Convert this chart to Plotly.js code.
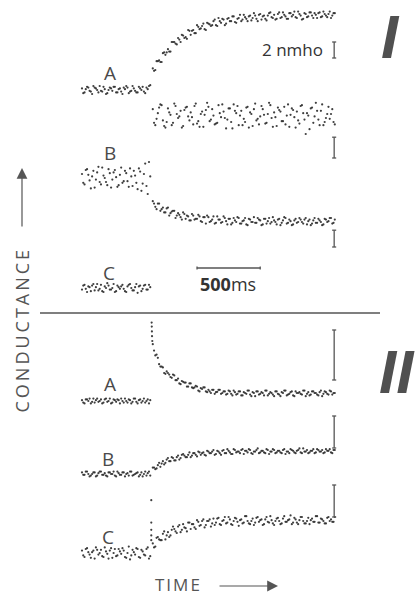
<!DOCTYPE html>
<html><head><meta charset="utf-8">
<script src="https://cdn.plot.ly/plotly-3.0.1.min.js"></script>
<style>
html,body{margin:0;padding:0;background:#fff;}
#chart{width:417px;height:595px;}
.annotation[data-index="10"] text{letter-spacing:3px;}
.annotation[data-index="11"] text{letter-spacing:2px;}
</style></head><body><div id="chart"></div>
<script>
// sample times (ms); two interleaved sample sets, step applied at ~550 ms
const tPre = [0,20,40,60,80,100,120,140,160,180,200,220,240,260,280,300,320,340,360,380,400,420,440,460,480,500,520,540];
const tPre2 = [10,30,50,70,90,110,130,150,170,190,210,230,250,270,290,310,330,350,370,390,410,430,450,470,490,510,530];
const tPost = [560,580,600,620,640,660,680,700,720,740,760,780,800,820,840,860,880,900,920,940,960,980,1000,1020,1040,1060,1080,1100,1120,1140,1160,1180,1200,1220,1240,1260,1280,1300,1320,1340,1360,1380,1400,1420,1440,1460,1480,1500,1520,1540,1560,1580,1600,1620,1640,1660,1680,1700,1720,1740,1760,1780,1800,1820,1840,1860,1880,1900,1920,1940,1960,1980,2000];
const tPost2 = [570,590,610,630,650,670,690,710,730,750,770,790,810,830,850,870,890,910,930,950,970,990,1010,1030,1050,1070,1090,1110,1130,1150,1170,1190,1210,1230,1250,1270,1290,1310,1330,1350,1370,1390,1410,1430,1450,1470,1490,1510,1530,1550,1570,1590,1610,1630,1650,1670,1690,1710,1730,1750,1770,1790,1810,1830,1850,1870,1890,1910,1930,1950,1970,1990];
const tFastA = [551,552,553,554,556];
const tStim = [548,548,548,548,548];

// conductance change (nmho) relative to each trace's resting level
const iA_pre = [0.2,-0.3,0.4,-0.1,-0.5,0.3,0.0,0.5,-0.2,0.1,-0.4,0.3,-0.1,0.4,-0.3,0.2,-0.5,0.1,0.3,-0.2,0.5,-0.1,-0.3,0.2,0.4,-0.4,0.1,0.6];
const iA_pre2 = [-0.4,0.1,0.3,-0.2,0.5,0.2,-0.3,-0.1,0.4,-0.5,0.0,0.2,0.4,-0.3,0.1,-0.2,0.3,0.5,-0.4,-0.1,0.2,-0.3,0.4,0.0,-0.2,0.3,0.5];
const iA_post = [2.7,2.5,3.6,3.5,4.6,4.4,5.1,4.8,6.0,5.8,6.5,6.0,6.8,6.6,7.5,6.9,7.5,7.1,7.9,7.7,8.3,7.5,8.3,8.0,8.6,8.1,9.0,8.4,8.8,8.3,9.0,8.6,9.2,8.4,9.0,8.6,9.4,8.9,9.2,8.7,9.6,8.9,9.4,8.8,9.3,8.7,9.6,9.1,9.4,8.9,9.7,9.1,9.4,8.9,9.6,9.2,9.8,9.0,9.5,8.8,9.6,9.1,9.7,9.3,9.6,9.0,9.7,9.2,9.5,9.1,9.8,9.3,9.6];
const iA_post2 = [2.4,3.6,3.7,3.5,4.7,4.7,4.8,6.0,6.0,5.7,6.3,6.9,6.5,6.4,7.4,7.4,7.1,8.1,7.6,8.0,7.6,8.4,8.2,8.1,8.8,8.0,8.6,8.9,8.1,8.9,8.6,9.2,8.5,8.9,9.4,8.8,9.1,8.6,9.3,9.0,9.3,8.6,9.5,9.2,8.9,9.3,9.7,9.0,8.8,9.5,9.0,9.7,9.2,8.9,9.6,9.4,9.1,9.8,9.3,8.9,9.5,9.2,9.7,9.0,9.4,9.6,9.1,9.8,9.3,9.5,9.0,9.6];
const iB_pre = [0.5,-0.8,1.1,-0.3,0.2,-1.2,0.7,-0.5,1.3,0.0,-0.9,0.6,-0.2,1.0,-1.1,0.4,-0.6,0.9,-0.4,1.2,-1.0,0.3,-1.4,0.8,-0.7,1.8,-2.0,0.2];
const iB_pre2 = [-0.6,1.0,0.4,-1.3,0.9,-0.2,1.4,-0.8,0.3,-0.5,1.1,-1.2,0.7,0.1,-0.9,1.3,-0.4,0.6,-1.1,0.2,0.9,-0.6,1.2,-1.6,0.5,-1.0,2.0];
const iB_postUpper = [8.6,6.6,8.1,9.2,7.2,6.3,8.7,7.9,6.9,9.0,7.5,8.4,6.5,8.8,7.7,8.2,6.7,9.3,7.1,8.0,6.4,8.5,8.9,7.3,7.8,6.8,9.1,7.6,8.3,6.2,8.7,7.0,9.2,8.1,6.6,8.4,7.4,8.8,6.3,8.0,8.6,7.2,6.7,9.0,7.9,6.9,9.4,7.5,8.2,6.5,8.5,7.1,8.9,7.8,6.4,8.7,7.6,8.3,6.8,9.1,7.3,8.1,6.1,8.8,7.7,8.4,6.6,9.2,7.0,8.0,7.4,8.6,6.7];
const iB_postUpper2 = [6.9,7.4,8.8,9.1,6.5,7.0,8.2,6.6,9.3,8.0,7.7,6.3,8.5,8.9,7.2,7.6,9.0,6.8,6.4,8.3,7.9,9.4,7.1,8.6,6.7,6.9,8.1,9.2,7.5,7.3,8.7,6.2,8.4,9.0,7.8,6.6,7.0,8.9,8.2,6.5,9.3,7.4,7.7,8.6,6.8,8.0,9.1,6.4,7.6,8.8,8.3,7.1,6.7,9.2,7.9,8.5,6.3,7.2,9.0,8.1,5.5,7.8,8.7,6.9,9.4,7.3,8.4,6.6,7.5,8.9,8.0,7.0];
const iB_postLower = [-2.9,-3.6,-3.2,-4.1,-3.7,-4.3,-3.7,-4.4,-4.1,-5.0,-4.4,-4.9,-4.3,-5.1,-4.8,-5.3,-4.7,-5.1,-4.6,-5.4,-4.9,-5.7,-4.9,-5.4,-4.8,-5.6,-5.2,-5.6,-4.8,-5.4,-5.1,-5.8,-5.0,-5.5,-5.0,-5.7,-5.3,-5.8,-5.1,-5.5,-4.9,-5.6,-5.2,-5.9,-5.1,-5.7,-5.0,-5.5,-5.3,-5.8,-5.1,-5.6,-4.9,-5.7,-5.2,-5.9,-5.3,-5.6,-5.0,-5.5,-5.2,-5.8,-5.2,-5.7,-5.0,-5.6,-5.3,-5.9,-5.1,-5.5,-5.0,-5.7,-5.2];
const iB_postLower2 = [-3.2,-3.9,-3.2,-3.9,-4.3,-3.8,-4.7,-4.2,-4.1,-4.7,-4.6,-5.2,-4.5,-4.7,-5.3,-4.5,-5.2,-5.1,-4.8,-5.5,-4.9,-4.7,-5.5,-5.2,-5.7,-4.8,-5.2,-5.5,-5.0,-5.8,-5.1,-5.6,-5.3,-4.9,-5.7,-5.4,-5.0,-5.9,-5.2,-5.5,-5.6,-5.0,-5.3,-5.8,-5.1,-5.4,-5.7,-4.9,-5.5,-5.2,-5.9,-5.3,-5.0,-5.6,-5.4,-5.8,-5.1,-5.5,-5.2,-5.7,-5.0,-5.4,-5.9,-5.3,-5.6,-5.1,-5.5,-5.8,-5.2,-5.4,-5.0,-5.6];
const iC_pre = [-0.2,0.4,-0.5,0.1,0.3,-0.3,0.5,-0.1,-0.4,0.2,0.6,-0.2,0.0,-0.5,0.3,-0.1,0.4,-0.4,0.2,0.5,-0.3,0.1,-0.6,0.3,-0.1,0.4,-0.2,0.1];
const iC_pre2 = [0.3,-0.1,0.2,-0.4,0.5,0.1,-0.3,0.4,-0.5,0.0,0.3,-0.2,0.5,-0.4,0.1,0.2,-0.1,-0.5,0.4,0.0,-0.3,0.5,0.2,-0.4,0.3,-0.2,0.4];
const iiA_pre = [0.1,-0.3,0.2,0.3,-0.1,-0.2,0.3,0.0,-0.3,0.2,-0.1,0.3,-0.2,0.1,0.2,-0.3,0.0,0.3,-0.2,0.1,-0.1,0.3,-0.3,0.2,0.0,-0.2,0.2,0.1];
const iiA_pre2 = [-0.2,0.2,0.0,-0.3,0.3,0.1,-0.1,0.2,-0.2,0.3,0.0,-0.3,0.2,-0.1,0.1,0.3,-0.2,0.0,0.2,-0.3,0.3,-0.1,0.1,-0.2,0.3,0.0,-0.3];
const iiA_fast = [9.8,9.3,8.7,8.1,7.5];
const iiA_post = [7.1,5.7,5.4,4.3,4.2,3.4,3.5,3.0,3.3,2.6,2.8,2.1,2.4,2.3,1.8,2.2,1.6,1.9,1.3,1.6,1.7,1.2,1.4,1.0,1.4,1.1,1.4,0.9,1.2,0.8,1.3,0.9,1.3,0.8,1.2,0.7,1.1,0.9,1.3,0.6,1.0,1.2,0.8,1.1,0.7,1.3,0.9,1.0,0.6,1.2,0.8,1.1,1.3,0.7,0.9,1.2,0.6,1.0,1.1,0.8,1.3,0.9,0.7,1.2,1.0,0.8,1.1,0.6,1.2,0.9,1.3,0.8,1.0];
const iiA_post2 = [6.3,5.8,4.6,4.3,3.5,3.7,3.3,2.9,3.2,2.6,2.2,2.5,2.3,1.8,2.2,1.7,1.7,1.8,1.2,1.5,1.7,1.1,1.2,1.4,0.9,1.15,1.4,1.0,1.2,0.9,1.2,0.7,1.1,0.9,1.2,0.7,1.0,1.3,0.8,1.1,0.6,1.2,0.9,1.0,1.3,0.7,1.1,0.8,1.2,0.9,0.6,1.0,1.3,0.8,1.1,0.7,1.2,1.0,0.9,1.3,0.6,1.1,0.8,1.2,1.0,0.7,1.3,0.9,1.1,0.8,1.2,1.0];
const iiB_pre = [0.2,-0.1,0.3,-0.3,0.0,0.2,-0.2,0.3,-0.1,0.1,-0.3,0.2,0.0,-0.2,0.3,-0.1,0.2,-0.3,0.1,0.3,-0.2,0.0,0.2,-0.1,-0.3,0.3,0.1,-0.2];
const iiB_pre2 = [-0.1,0.3,0.0,-0.2,0.2,-0.3,0.1,0.3,-0.1,-0.2,0.2,0.0,0.3,-0.3,0.1,-0.1,0.2,0.0,-0.2,0.3,-0.1,0.1,-0.3,0.2,0.0,-0.2,0.3];
const iiB_post = [0.8,0.6,1.1,0.9,1.6,1.4,2.0,1.6,2.0,1.7,2.3,2.0,2.5,2.1,2.4,2.1,2.6,2.4,2.8,2.4,2.7,2.3,2.8,2.6,3.0,2.5,2.8,2.4,3.0,2.6,2.9,2.5,3.1,2.7,2.8,3.0,2.5,2.9,3.1,2.6,2.8,3.0,2.6,2.9,2.7,3.1,2.5,2.8,3.0,2.7,2.9,2.6,3.1,2.8,2.6,3.0,2.7,2.9,3.2,2.6,2.8,3.0,2.7,2.9,2.6,3.1,2.8,3.0,2.7,2.9,3.1,2.6,3.0];
const iiB_post2 = [0.8,0.7,1.4,1.3,1.2,1.8,1.6,2.1,1.7,2.1,1.8,2.4,2.3,2.1,2.7,2.3,2.6,2.2,2.7,2.6,2.4,2.9,2.6,2.8,2.4,2.9,2.6,2.9,2.6,3.1,2.7,2.5,3.0,2.8,2.6,3.1,2.9,2.7,3.0,2.5,2.8,3.2,2.7,2.9,2.6,3.0,2.8,3.1,2.6,2.9,2.7,3.0,2.5,2.8,3.1,2.9,2.6,3.0,2.7,3.2,2.8,2.6,2.9,3.1,2.7,3.0,2.8,2.6,3.1,2.9,2.7,3.0];
const iiC_pre = [0.3,-0.5,0.6,-0.2,0.1,-0.7,0.4,0.0,-0.4,0.7,-0.1,0.3,-0.6,0.5,-0.3,0.2,0.6,-0.5,0.0,-0.8,0.4,-0.2,0.5,-0.6,0.2,-0.3,0.7,-0.4];
const iiC_pre2 = [-0.3,0.5,0.1,-0.6,0.3,0.7,-0.2,0.4,-0.5,0.2,-0.7,0.6,0.0,-0.4,0.5,-0.1,0.3,-0.6,0.8,-0.3,0.1,0.6,-0.5,0.4,-0.2,0.5,-0.7];
const iiC_stim = [6.6,3.8,2.9,2.2,1.6];
const iiC_post = [1.2,0.8,2.0,1.6,2.4,1.7,2.6,2.2,3.3,2.7,3.3,2.6,3.6,3.1,3.8,3.0,3.6,3.0,3.9,3.5,4.2,3.5,4.0,3.3,4.3,3.8,4.4,3.5,4.1,3.7,4.5,3.6,4.0,4.3,3.4,4.2,3.8,4.6,3.7,4.0,3.5,4.4,3.9,4.2,3.6,4.5,3.8,4.1,3.5,4.3,4.0,3.7,4.6,3.9,4.2,3.6,4.4,3.8,4.1,4.5,3.7,4.0,3.6,4.3,3.9,4.6,3.8,4.2,3.7,4.4,4.0,3.9,4.5];
const iiC_post2 = [0.7,1.9,1.7,1.6,2.7,2.2,2.0,2.9,3.0,2.5,3.5,2.9,3.2,2.7,3.8,3.6,3.2,4.1,3.4,4.0,3.2,4.0,4.2,3.7,3.5,4.3,3.6,4.0,4.5,3.8,4.2,3.5,4.4,3.9,4.1,3.7,4.6,4.0,3.6,4.3,3.8,4.5,4.1,3.5,4.2,3.9,4.6,3.7,4.0,4.4,3.6,4.3,3.9,4.1,4.7,3.8,4.2,3.6,4.5,4.0,3.7,4.4,4.1,3.9,4.6,3.8,4.3,4.0,3.7,4.5,4.2,3.9];

const traceLabels = ['A','B','C','A','B','C'];
const scaleLabel = '2 nmho';

// ---- layout helpers (stacking offsets in nmho, page geometry) ----
const W = 417, H = 595;
const OFFSET = {IA:63.125, IB:52.125, IC:38.375, IIA:24.25, IIB:15.125, IIC:5.25};
const series = [
  [tPre,iA_pre,'IA'],[tPre2,iA_pre2,'IA'],[tPost,iA_post,'IA'],[tPost2,iA_post2,'IA'],
  [tPre,iB_pre,'IB'],[tPre2,iB_pre2,'IB'],[tPost,iB_postUpper,'IB'],[tPost2,iB_postUpper2,'IB'],
  [tPost,iB_postLower,'IB'],[tPost2,iB_postLower2,'IB'],
  [tPre,iC_pre,'IC'],[tPre2,iC_pre2,'IC'],
  [tPre,iiA_pre,'IIA'],[tPre2,iiA_pre2,'IIA'],[tFastA,iiA_fast,'IIA'],[tPost,iiA_post,'IIA'],[tPost2,iiA_post2,'IIA'],
  [tPre,iiB_pre,'IIB'],[tPre2,iiB_pre2,'IIB'],[tPost,iiB_post,'IIB'],[tPost2,iiB_post2,'IIB'],
  [tPre,iiC_pre,'IIC'],[tPre2,iiC_pre2,'IIC'],[tStim,iiC_stim,'IIC'],[tPost,iiC_post,'IIC'],[tPost2,iiC_post2,'IIC']
];
const data = series.map(([t,v,k]) => ({
  type:'scatter', mode:'markers', x:t, y:v.map(d=>d+OFFSET[k]),
  marker:{size:2.2, color:'#2a2a2a', opacity:0.9}, hoverinfo:'skip', showlegend:false
}));

const px = x => x/W, py = y => 1 - y/H;
const ink = '#4a4a4a';
const font = {family:'"Open Sans", sans-serif', color:ink};
const A = (x,y,text,f,extra) => Object.assign({xref:'paper',yref:'paper',x:px(x),y:py(y),text,showarrow:false,xanchor:'center',yanchor:'middle',font:f}, extra||{});
const labelPos = [[110,73],[110,153],[109,273],[110,384],[108,459],[108,537]];
const annotations = labelPos.map((p,i)=>A(p[0],p[1],traceLabels[i],{...font,size:19}));
annotations.push(A(292,49,scaleLabel,{...font,size:17,color:'#333'}));                       // 6
annotations.push(A(228,284,'<b>500</b>ms',{...font,size:18,color:'#333'}));                  // 7
const numeral = {family:'"Liberation Sans Narrow","Liberation Sans"',size:62,color:'#505050'};
annotations.push(A(390,36,'<b><i>I</i></b>',numeral));                                       // 8
annotations.push(A(397,371,'<b><i>II</i></b>',numeral));                                     // 9
annotations.push(A(22,330,'CONDUCTANCE',{...font,size:18,color:'#555'},{textangle:-90}));    // 10
annotations.push(A(178,584,'TIME',{...font,size:17,color:'#555'}));                         // 11
annotations.push({xref:'paper',yref:'paper',x:px(22),y:py(168),text:'',showarrow:true,ax:0,ay:60,arrowhead:2,arrowsize:1.8,arrowwidth:1.2,arrowcolor:'#555'});
annotations.push({xref:'paper',yref:'paper',x:px(278),y:py(586),text:'',showarrow:true,ax:-60,ay:0,arrowhead:2,arrowsize:1.8,arrowwidth:1.2,arrowcolor:'#555'});

// calibration bars: [time, bottom (nmho), length (nmho)]
const bars = [[1995,67.125,2.0],[1995,54.625,2.6],[1995,43.5,2.1],[1995,26.875,6.25],[1995,18.375,4.0],[1995,9.75,4.0]];
const shapes = [];
const line = {color:'#555', width:1.3};
bars.forEach(([t,y0,len])=>{
  shapes.push({type:'line',xref:'x',yref:'y',x0:t,x1:t,y0:y0,y1:y0+len,line});
  shapes.push({type:'line',xref:'x',yref:'y',x0:t-16,x1:t+16,y0:y0,y1:y0,line});
  shapes.push({type:'line',xref:'x',yref:'y',x0:t-16,x1:t+16,y0:y0+len,y1:y0+len,line});
});
// 500 ms time bar
const tb = {t0:910, dur:500, y:40.875};
shapes.push({type:'line',xref:'x',yref:'y',x0:tb.t0,x1:tb.t0+tb.dur,y0:tb.y,y1:tb.y,line});
shapes.push({type:'line',xref:'x',yref:'y',x0:tb.t0,x1:tb.t0,y0:tb.y-0.2,y1:tb.y+0.2,line});
shapes.push({type:'line',xref:'x',yref:'y',x0:tb.t0+tb.dur,x1:tb.t0+tb.dur,y0:tb.y-0.2,y1:tb.y+0.2,line});
// divider between experiments I and II
shapes.push({type:'line',xref:'paper',yref:'paper',x0:px(40),x1:px(380),y0:py(313),y1:py(313),line:{color:'#555',width:1.3}});

const layout = {
  width:W, height:H, margin:{l:0,r:0,t:0,b:0},
  paper_bgcolor:'#fff', plot_bgcolor:'#fff',
  xaxis:{range:[-648.7,2650.3], visible:false, fixedrange:true},
  yaxis:{range:[0,H/8], visible:false, fixedrange:true},
  annotations, shapes, showlegend:false
};
Plotly.newPlot('chart', data, layout, {staticPlot:true, displayModeBar:false});
</script></body></html>
